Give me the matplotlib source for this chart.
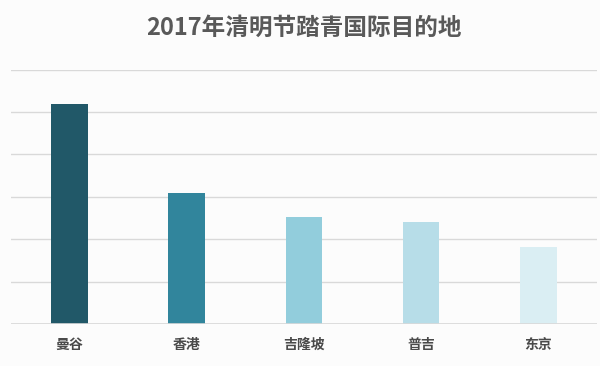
"""
2017 Qingming holiday international destinations - bar chart.
Produces: out.png
"""
import matplotlib.pyplot as plt

plt.rcParams['font.family'] = ['Noto Sans CJK SC', 'DejaVu Sans']

# ── Data (in gridline units) ──────────────────────────────────────────────────
cities = ["曼谷", "香港", "吉隆坡", "普吉", "东京"]
values = [5.19, 3.09, 2.53, 2.40, 1.82]
bar_colors = ["#215868", "#31859C", "#92CDDC", "#B7DDE8", "#DAEEF3"]

fig = plt.figure(figsize=(6.0, 3.66), dpi=100)
fig.patch.set_facecolor("#FCFCFC")
ax = fig.add_axes([0.018, 0.115, 0.977, 0.695])
ax.set_facecolor("#FCFCFC")

x = list(range(len(cities)))
ax.bar(x, values, width=0.31, color=bar_colors, zorder=3)

ax.set_xlim(-0.5, len(cities) - 0.5)
ax.set_ylim(0, 6)
ax.set_yticks(range(0, 7))
ax.set_yticklabels([])
ax.tick_params(axis="y", length=0)
ax.tick_params(axis="x", length=0, pad=10)
ax.set_xticks(x)
ax.set_xticklabels(cities, fontsize=10, fontweight="bold", color="#4A4A4A")
ax.grid(axis="y", color="#D9D9D9", linewidth=1.0, zorder=0)
for s in ["top", "right", "left", "bottom"]:
    ax.spines[s].set_visible(False)
ax.axhline(0, color="#D9D9D9", linewidth=1.2, zorder=4)

fig.text(0.506, 0.925, "2017年清明节踏青国际目的地", ha="center", va="center",
         fontsize=17, fontweight="bold", color="#595959")

fig.savefig("out.png", dpi=100, facecolor=fig.get_facecolor())
